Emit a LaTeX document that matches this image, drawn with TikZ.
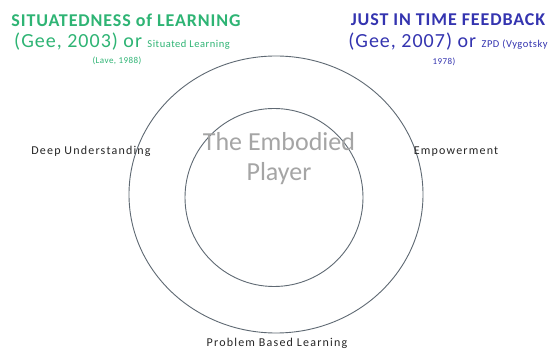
\documentclass[tikz,border=0pt]{standalone}
\usepackage{fontspec}
\setmainfont{Carlito}
\definecolor{titlegreen}{RGB}{46,180,116}
\definecolor{titleblue}{RGB}{52,52,176}
\definecolor{ringcol}{RGB}{95,105,115}
\definecolor{embgray}{RGB}{165,165,165}
\newcommand{\spaced}[1]{\addfontfeature{LetterSpace=#1}}
\begin{document}
\begin{tikzpicture}[x=1pt,y=-1pt,
  ring/.style={draw=ringcol,line width=0.9pt},
  lbl/.style={inner sep=0pt,anchor=base,font=\fontsize{12}{14}\selectfont\spaced{10},text=black!85},
  ttl/.style={inner sep=0pt,anchor=base}]
\useasboundingbox (0,0) rectangle (552,352);
\fill[white] (0,0) rectangle (552,352);
% rings
\draw[ring] (276,194.5) ellipse [x radius=147, y radius=138.5];
\node[ring,circle,minimum size=178pt,inner sep=0pt] (inner) at (274,197.5) {};
\coordinate (outer) at (276,194.5);
% centre text
\node[ttl,text=embgray,font=\fontsize{26}{30}\selectfont] (emb1) at (279,151) {The Embodied};
\node[ttl,text=embgray,font=\fontsize{26}{30}\selectfont] (emb2) at (279,181) {Player};
% side labels
\node[lbl] (deep) at (91,155) {Deep Understanding};
\node[lbl] (emp) at (456,155) {Empowerment};
\node[lbl] (pbl) at (277,347) {Problem Based Learning};
% left title
\node[ttl,text=titlegreen,font=\bfseries\fontsize{18}{21}\selectfont\spaced{5}] (sit1) at (126,27) {SITUATEDNESS of LEARNING};
\node[ttl,text=titlegreen,font=\fontsize{20}{23}\selectfont\spaced{5}] (sit2) at (122,48) {(Gee, 2003) or {\fontsize{10.5}{12}\selectfont\spaced{5} Situated Learning}};
\node[ttl,text=titlegreen,font=\fontsize{9}{11}\selectfont\spaced{5}] (sit3) at (117,64) {(Lave, 1988)};
% right title
\node[ttl,text=titleblue,font=\bfseries\fontsize{18}{21}\selectfont\spaced{5}] (jit1) at (448,26) {JUST IN TIME FEEDBACK};
\node[ttl,text=titleblue,font=\fontsize{20}{23}\selectfont\spaced{5}] (jit2) at (448,48) {(Gee, 2007) or {\fontsize{10.5}{12}\selectfont\spaced{5} ZPD (Vygotsky}};
\node[ttl,text=titleblue,font=\fontsize{9}{11}\selectfont\spaced{5}] (jit3) at (444,65) {1978)};
\end{tikzpicture}
\end{document}
